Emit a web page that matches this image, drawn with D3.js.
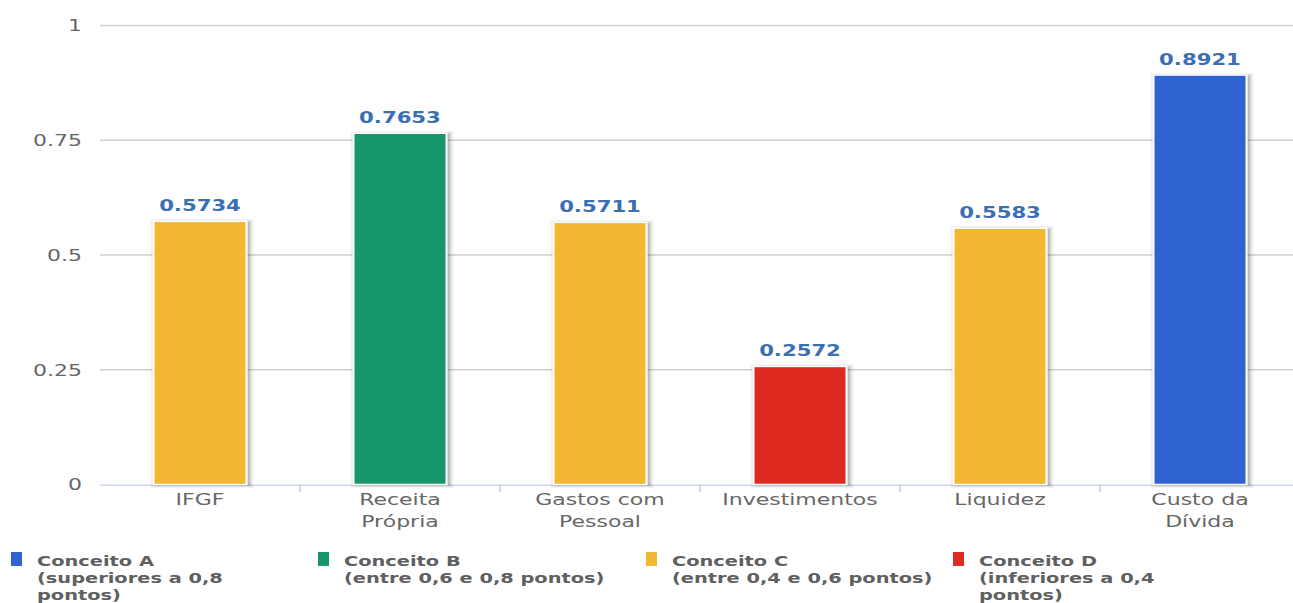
<!DOCTYPE html>
<html>
<head>
<meta charset="utf-8">
<script src="https://cdn.jsdelivr.net/npm/d3@7"></script>
<style>
  html, body { margin: 0; padding: 0; background: #fff; overflow: hidden; }
  svg { display: block; }
</style>
</head>
<body>
<div id="chart"></div>
<script>
// ---- data ----
const categories = ["IFGF", "Receita Própria", "Gastos com Pessoal", "Investimentos", "Liquidez", "Custo da Dívida"];
const categoryLines = [["IFGF"], ["Receita", "Própria"], ["Gastos com", "Pessoal"], ["Investimentos"], ["Liquidez"], ["Custo da", "Dívida"]];
const values = [0.5734, 0.7653, 0.5711, 0.2572, 0.5583, 0.8921];
const concepts = ["C", "B", "C", "D", "C", "A"];
const legendKeys = ["A", "B", "C", "D"];
const legendLines = [
  ["Conceito A", "(superiores a 0,8", "pontos)"],
  ["Conceito B", "(entre 0,6 e 0,8 pontos)"],
  ["Conceito C", "(entre 0,4 e 0,6 pontos)"],
  ["Conceito D", "(inferiores a 0,4", "pontos)"]
];
const conceptColors = ["#2f63d0", "#17956b", "#f4b733", "#de2a20"];
const yTicks = [0, 0.25, 0.5, 0.75, 1];
const yTickLabels = ["0", "0.25", "0.5", "0.75", "1"];

// ---- layout (virtual canvas stretched to 1293x603) ----
const W = 1293, H = 603, SX = 2, SY = 1.5;
const VW = W / SX, VH = H / SY;
const font = "'DejaVu Sans', Verdana, sans-serif";

const svg = d3.select("#chart").append("svg")
  .attr("width", W).attr("height", H)
  .attr("viewBox", `0 0 ${VW} ${VH}`)
  .attr("preserveAspectRatio", "none");

const plotLeft = 50, plotRight = 650, plotTop = 17, plotBottom = 323;

const y = d3.scaleLinear().domain([0, 1]).range([plotBottom, plotTop]);
const xBand = d3.scaleBand().domain(categories).range([plotLeft, plotRight]).padding(0);
const x = d3.scaleBand().domain(categories).range([plotLeft, plotRight])
  .paddingInner(0.535).paddingOuter(0.2675);
const color = d3.scaleOrdinal().domain(legendKeys).range(conceptColors);

// gridlines
svg.append("g").selectAll("line").data(yTicks.filter(d => d > 0)).join("line")
  .attr("x1", plotLeft).attr("x2", VW + 10)
  .attr("y1", d => y(d)).attr("y2", d => y(d))
  .attr("stroke", "#cfcfcf").attr("stroke-width", 1.1);

// y tick labels
svg.append("g").selectAll("text").data(yTicks).join("text")
  .attr("x", 41).attr("y", d => y(d))
  .attr("dy", "0.36em")
  .attr("text-anchor", "end")
  .attr("font-family", font).attr("font-size", 11)
  .attr("fill", "#666")
  .text((d, i) => yTickLabels[i]);

// x axis line
svg.append("line")
  .attr("x1", plotLeft).attr("x2", VW + 10)
  .attr("y1", y(0) + 0.5).attr("y2", y(0) + 0.5)
  .attr("stroke", "#ccd6eb").attr("stroke-width", 1);

// x ticks between categories
svg.append("g").selectAll("line").data(categories.slice(1)).join("line")
  .attr("x1", d => xBand(d)).attr("x2", d => xBand(d))
  .attr("y1", y(0)).attr("y2", y(0) + 5)
  .attr("stroke", "#ccd6eb").attr("stroke-width", 1);

// bars with shadow
const barData = categories.map((c, i) => ({ c, v: values[i], k: concepts[i] }));
const shadow = svg.append("g");
[[5, 0.05], [3, 0.1], [1, 0.15]].forEach(([sw, op]) => {
  shadow.selectAll(null).data(barData).join("rect")
    .attr("x", d => x(d.c) + 1).attr("y", d => y(d.v) + 1)
    .attr("width", x.bandwidth()).attr("height", d => y(0) - y(d.v) - 1)
    .attr("fill", "none").attr("stroke", "#000")
    .attr("stroke-opacity", op).attr("stroke-width", sw);
});
svg.append("g").selectAll("rect").data(barData).join("rect")
  .attr("x", d => x(d.c)).attr("y", d => y(d.v))
  .attr("width", x.bandwidth()).attr("height", d => y(0) - y(d.v))
  .attr("fill", d => color(d.k))
  .attr("stroke", "#fff").attr("stroke-width", 1);

// data labels
svg.append("g").selectAll("text").data(barData).join("text")
  .attr("x", d => x(d.c) + x.bandwidth() / 2)
  .attr("y", d => y(d.v) - 6.7)
  .attr("text-anchor", "middle")
  .attr("font-family", font).attr("font-size", 10.6).attr("font-weight", "bold")
  .attr("fill", "#3b6fb4")
  .attr("stroke", "#fff").attr("stroke-width", 1.2).attr("paint-order", "stroke")
  .text(d => d.v.toFixed(4));

// x labels
const xl = svg.append("g").selectAll("text").data(categories).join("text")
  .attr("x", d => xBand(d) + xBand.bandwidth() / 2)
  .attr("y", 336.7)
  .attr("text-anchor", "middle")
  .attr("font-family", font).attr("font-size", 11)
  .attr("fill", "#666");
xl.each(function(d, i) {
  d3.select(this).selectAll("tspan").data(categoryLines[i]).join("tspan")
    .attr("x", xBand(d) + xBand.bandwidth() / 2)
    .attr("dy", (t, j) => j === 0 ? 0 : 14.7)
    .text(t => t);
});

// legend
const legendX = [5.5, 159, 323, 476.5];
const lg = svg.append("g").selectAll("g").data(legendKeys).join("g")
  .attr("transform", (d, i) => `translate(${legendX[i]},0)`);
lg.append("rect")
  .attr("x", 0).attr("y", 368).attr("width", 5.5).attr("height", 9.3)
  .attr("fill", d => color(d));
lg.append("text")
  .attr("y", 377.5)
  .attr("font-family", font).attr("font-size", 9.7).attr("font-weight", "bold")
  .attr("fill", "#606060")
  .each(function(d, i) {
    d3.select(this).selectAll("tspan").data(legendLines[i]).join("tspan")
      .attr("x", 13)
      .attr("dy", (t, j) => j === 0 ? 0 : 11.3)
      .text(t => t);
  });
</script>
</body>
</html>
